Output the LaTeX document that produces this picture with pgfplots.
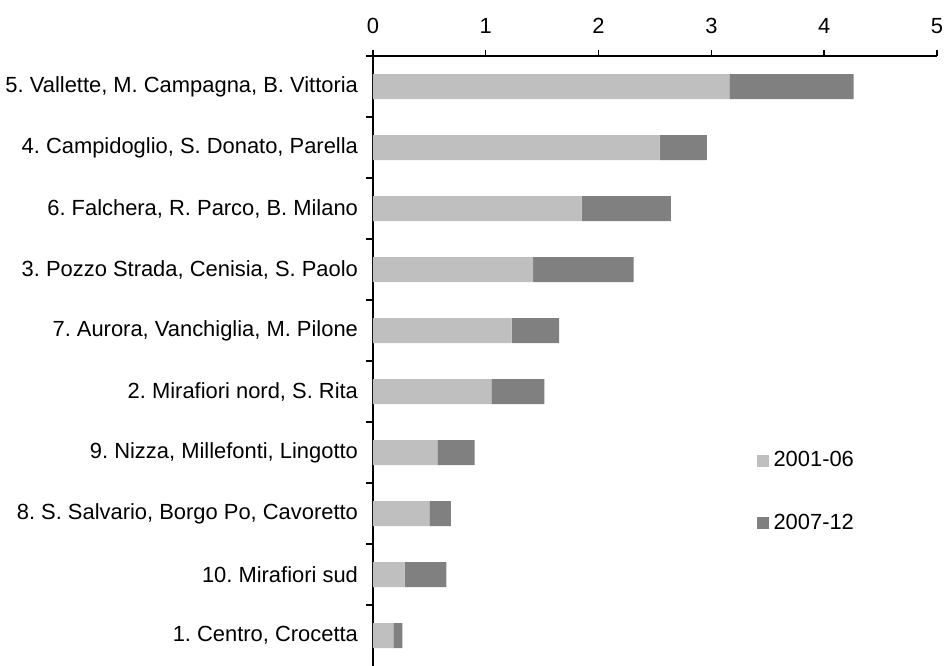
\documentclass[border=0pt]{standalone}
\usepackage{fontspec}
\setmainfont{Liberation Sans}
\usepackage{pgfplots}
\pgfplotsset{compat=1.18}
\definecolor{lightbar}{HTML}{BFBFBF}
\definecolor{darkbar}{HTML}{808080}
\pgfplotsset{sqlegend/.style={legend image code/.code={\path[##1,draw=none] (0bp,-3bp) rectangle (6bp,3bp);}}}
\frenchspacing
\begin{document}
\frenchspacing
\begin{tikzpicture}
\begin{axis}[
  at={(0,0)}, anchor=south west,
  scale only axis, width=282bp, height=305bp,
  xbar stacked, bar width=12.5bp,
  xmin=0, xmax=5, ymin=-0.5, ymax=9.5,
  axis x line*=top, axis y line*=left,
  axis line style={black, line width=0.7bp, -},
  every tick/.append style={black, line width=0.7bp},
  xtick={0,1,2,3,4,5},
  ytick={0,...,9},
  yticklabels={{1. Centro, Crocetta},{10. Mirafiori sud},{8. S. Salvario, Borgo Po, Cavoretto},{9. Nizza, Millefonti, Lingotto},{2. Mirafiori nord, S. Rita},{7. Aurora, Vanchiglia, M. Pilone},{3. Pozzo Strada, Cenisia, S. Paolo},{6. Falchera, R. Parco, B. Milano},{4. Campidoglio, S. Donato, Parella},{5. Vallette, M. Campagna, B. Vittoria}},
  minor ytick={0.5,1.5,...,9.5},
  tick align=outside,
  major tick length=3bp, minor tick length=3.5bp,
  every major y tick/.append style={draw=none},
  /pgf/number format/assume math mode=true,
  tick label style={font=\fontsize{11}{13}\selectfont\frenchspacing},
  xticklabel style={yshift=4.5bp},
  yticklabel style={xshift=-1bp},
  legend style={at={(axis description cs:0.68,0.36)}, anchor=north west, draw=none, fill=none, font=\fontsize{11}{13}\selectfont, row sep=17.5bp, inner sep=0pt, nodes={inner sep=2.3bp}},
  legend cell align=left,
]
\addplot[fill=lightbar, draw=none, sqlegend] coordinates {
(0.18,0) (0.28,1) (0.50,2) (0.57,3) (1.05,4) (1.23,5) (1.42,6) (1.85,7) (2.54,8) (3.16,9)};
\addplot[fill=darkbar, draw=none, sqlegend] coordinates {
(0.08,0) (0.37,1) (0.19,2) (0.33,3) (0.47,4) (0.42,5) (0.89,6) (0.79,7) (0.42,8) (1.10,9)};
\legend{2001-06, 2007-12}
\end{axis}
\pgfresetboundingbox
\path[use as bounding box] (-186.5bp,0) rectangle (285.5bp,333bp);
\end{tikzpicture}
\end{document}
